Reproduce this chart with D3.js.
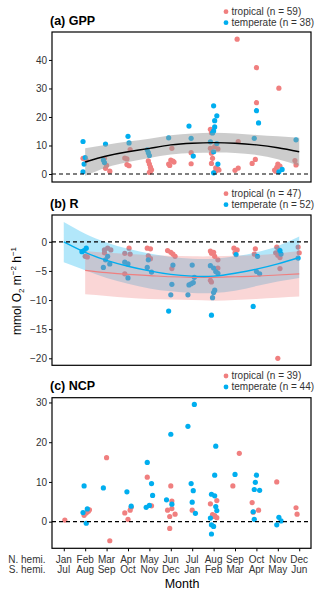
<!DOCTYPE html>
<html>
<head>
<meta charset="utf-8">
<script src="https://cdn.jsdelivr.net/npm/d3@7"></script>
<style>
  html, body { margin: 0; padding: 0; background: #fff; }
  svg { display: block; font-family: "Liberation Sans", Arial, sans-serif; }
</style>
</head>
<body>
<div id="chart"></div>
<script>
// month labels for both hemispheres
const monthsN = ['Jan', 'Feb', 'Mar', 'Apr', 'May', 'Jun', 'Jul', 'Aug', 'Sep', 'Oct', 'Nov', 'Dec'];
const monthsS = ['Jul', 'Aug', 'Sep', 'Oct', 'Nov', 'Dec', 'Jan', 'Feb', 'Mar', 'Apr', 'May', 'Jun'];

// (a) GPP points: [month (jittered), value]
const gppTropical = [
  [1.9, 5.5], [2.05, 4.8],
  [2.9, 5.5], [3.0, 3.0], [2.95, 2.0], [3.15, 1.0],
  [4.1, 8.6], [3.85, 5.6], [3.95, 5.3], [3.95, 3.3], [4.05, 2.9],
  [4.95, 4.6], [5.0, 3.5], [5.05, 2.4], [5.1, 1.5], [5.05, 1.0], [5.0, 0.6],
  [6.05, 9.0], [5.9, 3.5], [6.0, 4.9], [6.1, 4.5], [6.15, 4.2], [5.95, 3.0],
  [6.95, 7.5], [6.95, 3.6],
  [7.85, 15.7], [7.9, 14.5], [7.85, 9.0], [8.05, 9.6], [8.2, 8.8], [7.9, 7.3], [7.95, 5.5],
  [7.9, 3.7], [8.1, 2.2], [8.2, 1.8], [8.25, 1.4], [8.1, 1.1],
  [9.1, 47.3], [9.15, 11.4], [9.15, 2.1], [9.0, 1.3],
  [10.0, 37.3], [10.0, 25.0], [9.95, 5.1], [9.8, 3.7],
  [11.05, 30.1], [11.0, 3.5], [11.1, 2.8], [10.95, 2.3], [10.85, 1.4], [10.9, 1.0],
  [11.8, 4.7], [11.85, 3.2]
];
const gppTemperate = [
  [1.9, 11.4], [2.0, 5.8], [1.95, 3.5], [1.9, 0.8],
  [2.95, 10.5], [2.85, 4.9], [2.9, 4.0],
  [4.0, 13.2], [4.05, 10.9],
  [4.9, 8.5], [4.95, 7.5], [5.0, 6.5],
  [5.9, 12.7],
  [6.85, 16.8], [6.95, 12.5], [7.05, 6.3],
  [8.0, 23.9], [8.15, 20.4], [8.05, 18.7], [8.05, 16.5], [8.0, 15.1], [7.95, 14.4],
  [7.85, 11.3], [8.15, 10.7], [8.0, 7.8], [8.2, 3.5], [8.0, 0.4],
  [10.0, 22.2], [10.1, 17.9], [9.9, 12.5],
  [11.2, 1.6], [11.05, 0.8],
  [11.85, 12.0]
];
// GPP fitted curve, Feb..Dec
const gppFitMonths = [2, 3, 4, 5, 6, 7, 8, 9, 10, 11, 12];
const gppFit = [4.2, 6.3, 7.8, 9.0, 10.2, 10.8, 11.0, 10.8, 10.2, 9.2, 7.8];
const gppLow = [-0.6, 2.3, 4.2, 5.6, 6.8, 7.4, 7.5, 7.4, 6.7, 5.2, 2.9];
const gppHigh = [9.0, 10.3, 11.4, 12.4, 13.6, 14.2, 14.5, 14.2, 13.7, 13.2, 12.7];

// (b) R points
const rTropical = [
  [2.0, -2.5], [2.1, -2.6],
  [2.9, -1.4], [3.05, -1.1], [3.2, -1.4], [2.9, -1.9],
  [4.05, -1.1], [3.85, -2.0], [4.1, -2.1], [3.85, -5.5],
  [4.9, -1.1], [5.05, -1.2], [4.95, -2.4], [5.05, -2.9],
  [5.85, -1.5], [6.0, -1.8], [6.1, -2.1], [6.2, -2.5], [6.05, -4.6],
  [7.85, -1.6], [8.0, -1.8], [7.9, -2.0], [8.05, -2.5], [8.2, -3.1], [8.2, -4.5], [7.85, -6.6], [7.9, -6.9],
  [8.95, -1.1], [9.1, -1.4], [9.0, -1.9],
  [9.95, -1.2], [9.9, -2.1],
  [10.95, -0.9], [11.05, -1.4], [10.9, -1.9], [11.0, -2.3], [11.1, -2.7], [11.1, -4.6], [11.0, -20.0],
  [11.95, -0.9], [12.0, -1.9]
];
const rTemperate = [
  [1.85, -1.7], [2.05, -1.1], [1.95, -1.5],
  [3.05, -2.5], [2.95, -3.1], [3.15, -3.8], [2.85, -4.4],
  [3.85, -3.5], [4.0, -3.8], [4.0, -6.2],
  [4.95, -3.1], [4.9, -4.4], [5.1, -5.2],
  [6.1, -4.0], [6.05, -7.3], [6.0, -9.1], [5.9, -11.9],
  [7.0, -4.0], [7.1, -6.1], [6.85, -7.4], [7.05, -7.0], [6.95, -7.2], [6.8, -9.1],
  [7.85, -4.1], [8.0, -4.5], [8.1, -5.1], [8.2, -5.4], [8.05, -8.3], [8.0, -8.7], [7.95, -9.6], [7.9, -12.6],
  [9.05, -2.2],
  [10.05, -2.5], [10.0, -5.1], [10.15, -5.5], [9.85, -11.1],
  [11.1, -1.5], [11.15, -2.1],
  [11.95, -2.8]
];
// R fitted curves
const rTropFitMonths = [2, 3, 4, 5, 6, 7, 8, 9, 10, 11, 12];
const rTropFit = [-4.9, -5.3, -5.6, -5.8, -6.0, -6.1, -6.1, -6.0, -5.9, -5.7, -5.5];
const rTropLow = [-9.0, -9.3, -9.6, -9.8, -9.9, -10.0, -10.1, -10.0, -9.8, -9.6, -9.4];
const rTropHigh = [-1.6, -1.9, -2.1, -2.3, -2.4, -2.5, -2.5, -2.4, -2.3, -2.0, -1.6];
const rTempFitMonths = [1, 2, 3, 4, 5, 6, 7, 8, 9, 10, 11, 12];
const rTempFit = [0.0, -1.8, -3.2, -4.2, -5.0, -5.6, -5.9, -5.9, -5.4, -4.7, -3.8, -2.7];
const rTempLow = [-3.5, -4.9, -6.2, -7.2, -8.0, -8.5, -8.8, -8.8, -8.4, -7.6, -6.8, -6.2];
const rTempHigh = [3.4, 1.4, -0.1, -1.2, -2.0, -2.6, -2.9, -2.9, -2.5, -1.8, -0.7, 0.9];

// (c) NCP points
const ncpTropical = [
  [1.05, 0.4],
  [1.95, 1.6], [2.05, 2.2], [2.15, 2.6], [2.2, 3.0],
  [3.0, 16.1], [3.15, -4.8],
  [3.85, 2.2], [4.15, 3.6], [4.1, 2.9], [4.0, 0.6],
  [4.9, 11.2], [5.1, 4.0],
  [6.0, 9.0], [6.05, 5.2], [5.85, 2.9], [6.05, 3.3], [5.95, 1.3], [6.2, 1.9], [5.95, -1.7],
  [7.0, 2.9],
  [7.85, 4.5], [8.15, 5.3], [7.95, 1.8], [8.05, 1.5], [8.15, 1.0], [8.0, 1.3],
  [9.2, 17.2], [8.9, 9.0],
  [9.8, 4.8], [9.85, 2.4], [10.1, 2.9],
  [10.95, 10.0],
  [11.85, 3.5], [11.9, 1.9]
];
const ncpTemperate = [
  [1.95, 9.0], [1.9, 2.3], [2.1, 3.2], [2.05, -0.4],
  [2.85, 8.5],
  [3.95, 7.5], [4.15, 3.9],
  [4.9, 14.9], [5.1, 9.6], [5.15, 6.6], [4.85, 3.6], [5.0, 4.1],
  [6.0, 22.0], [5.8, 5.5], [6.05, 4.4],
  [7.1, 29.5], [6.8, 24.0], [6.95, 9.6], [7.05, 7.8], [7.0, 4.9], [7.15, 2.1],
  [8.1, 19.0], [8.05, 11.7], [7.9, 6.9], [8.05, 6.5], [8.1, 3.8], [8.15, 2.8], [7.85, 0.9], [7.9, -0.8], [8.0, -1.2], [7.9, -3.1],
  [9.0, 11.9],
  [10.0, 11.7], [9.95, 9.9], [9.9, 8.1], [10.15, 7.9], [9.85, 2.5], [9.9, 0.6],
  [11.05, 1.1], [10.95, -0.8], [11.15, 0.2]
];

const RED = '#F07F7F';
const BLUE = '#00AEEF';
const TXT = '#333';

const W = 320, H = 594;
const svg = d3.select('#chart').append('svg').attr('width', W).attr('height', H);

const x = d3.scaleLinear().domain([0.45, 12.55]).range([52, 311]);

const panels = [
  { title: '(a) GPP', top: 32, bottom: 182, domain: [-2.8, 49.8], ticks: [0, 10, 20, 30, 40],
    titleY: 25.3, legY: 11.7, nTrop: 59, nTemp: 38, trop: gppTropical, temp: gppTemperate },
  { title: '(b) R', top: 215, bottom: 365.3, domain: [-21.2, 4.6], ticks: [0, -5, -10, -15, -20],
    titleY: 207.8, legY: 193.7, nTrop: 47, nTemp: 52, trop: rTropical, temp: rTemperate },
  { title: '(c) NCP', top: 397.7, bottom: 548.3, domain: [-6.7, 31.2], ticks: [0, 10, 20, 30],
    titleY: 389.5, legY: 376, nTrop: 39, nTemp: 44, trop: ncpTropical, temp: ncpTemperate }
];

const fmt = v => (v < 0 ? '\u2212' + Math.abs(v) : String(v));

panels.forEach((p, idx) => {
  const y = d3.scaleLinear().domain(p.domain).range([p.bottom, p.top]);
  const g = svg.append('g');

  // points
  [[p.trop, RED], [p.temp, BLUE]].forEach(([pts, col]) => {
    g.selectAll(null).data(pts).join('circle')
      .attr('cx', d => x(d[0]))
      .attr('cy', d => y(d[1]))
      .attr('r', 2.6)
      .attr('fill', col);
  });

  // smooths (bands drawn over the points)
  const area = (ms, lo, hi) => d3.area()
    .x((d, i) => x(ms[i]))
    .y0((d, i) => y(lo[i]))
    .y1((d, i) => y(hi[i]))
    .curve(d3.curveNatural)(ms);
  const line = (ms, fit) => d3.line()
    .x((d, i) => x(ms[i]))
    .y((d, i) => y(fit[i]))
    .curve(d3.curveNatural)(ms);

  if (idx === 0) {
    g.append('path').attr('d', area(gppFitMonths, gppLow, gppHigh))
      .attr('fill', '#999').attr('fill-opacity', 0.5);
    g.append('path').attr('d', line(gppFitMonths, gppFit))
      .attr('fill', 'none').attr('stroke', '#000').attr('stroke-width', 1.4);
  }
  if (idx === 1) {
    g.append('path').attr('d', area(rTempFitMonths, rTempLow, rTempHigh))
      .attr('fill', BLUE).attr('fill-opacity', 0.3);
    g.append('path').attr('d', area(rTropFitMonths, rTropLow, rTropHigh))
      .attr('fill', RED).attr('fill-opacity', 0.32);
    g.append('path').attr('d', line(rTropFitMonths, rTropFit))
      .attr('fill', 'none').attr('stroke', RED).attr('stroke-width', 1.2);
    g.append('path').attr('d', line(rTempFitMonths, rTempFit))
      .attr('fill', 'none').attr('stroke', BLUE).attr('stroke-width', 1.4);
  }

  // zero line
  g.append('line')
    .attr('x1', 52).attr('x2', 311)
    .attr('y1', y(0)).attr('y2', y(0))
    .attr('stroke', '#000').attr('stroke-width', 1.2)
    .attr('stroke-dasharray', '4,3');

  // frame
  g.append('rect')
    .attr('x', 52).attr('y', p.top)
    .attr('width', 311 - 52).attr('height', p.bottom - p.top)
    .attr('fill', 'none').attr('stroke', '#000').attr('stroke-width', 1.2);

  // y axis
  const ya = svg.append('g')
    .attr('transform', 'translate(52,0)')
    .call(d3.axisLeft(y).tickValues(p.ticks).tickSize(3).tickPadding(2).tickFormat(fmt));
  ya.select('.domain').remove();
  ya.selectAll('line').attr('stroke', '#000').attr('stroke-width', 1);
  ya.selectAll('text').attr('fill', TXT).attr('font-size', 10)
    .attr('font-family', '"Liberation Sans", Arial, sans-serif');

  // title
  svg.append('text').attr('x', 50).attr('y', p.titleY)
    .attr('font-size', 12.5).attr('font-weight', 'bold').attr('fill', '#000')
    .text(p.title);

  // legend
  [[RED, `tropical (n = ${p.nTrop})`], [BLUE, `temperate (n = ${p.nTemp})`]].forEach(([col, lab], i) => {
    const ly = p.legY + i * 11;
    svg.append('circle').attr('cx', 226).attr('cy', ly).attr('r', 2.4).attr('fill', col);
    svg.append('text').attr('x', 231.5).attr('y', ly + 3.3)
      .attr('font-size', 10).attr('fill', TXT).text(lab);
  });
});

// bottom x axis on panel c
const pc = panels[2];
const xa = svg.append('g')
  .attr('transform', `translate(0,${pc.bottom})`)
  .call(d3.axisBottom(x).tickValues(d3.range(1, 13)).tickSize(3).tickFormat(''));
xa.select('.domain').remove();
xa.selectAll('line').attr('stroke', '#000');

d3.range(1, 13).forEach((m, i) => {
  svg.append('text').attr('x', x(m)).attr('y', 562.7).attr('text-anchor', 'middle')
    .attr('font-size', 10).attr('fill', TXT).text(monthsN[i]);
  svg.append('text').attr('x', x(m)).attr('y', 572.7).attr('text-anchor', 'middle')
    .attr('font-size', 10).attr('fill', TXT).text(monthsS[i]);
});
svg.append('text').attr('x', 45.5).attr('y', 562.7).attr('text-anchor', 'end')
  .attr('font-size', 10).attr('fill', TXT).text('N. hemi.');
svg.append('text').attr('x', 45.5).attr('y', 572.7).attr('text-anchor', 'end')
  .attr('font-size', 10).attr('fill', TXT).text('S. hemi.');

svg.append('text').attr('x', 182).attr('y', 588).attr('text-anchor', 'middle')
  .attr('font-size', 12.5).attr('fill', '#000').text('Month');

// y axis title
const yl = svg.append('text')
  .attr('transform', 'translate(21,291) rotate(-90)')
  .attr('text-anchor', 'middle')
  .attr('font-size', 12).attr('fill', '#000');
yl.append('tspan').text('mmol O');
yl.append('tspan').attr('font-size', 8).attr('dy', 3).text('2');
yl.append('tspan').attr('dy', -3).text(' m');
yl.append('tspan').attr('font-size', 8).attr('dy', -5).text('\u22122');
yl.append('tspan').attr('dy', 5).text(' h');
yl.append('tspan').attr('font-size', 8).attr('dy', -5).text('\u22121');
</script>
</body>
</html>
